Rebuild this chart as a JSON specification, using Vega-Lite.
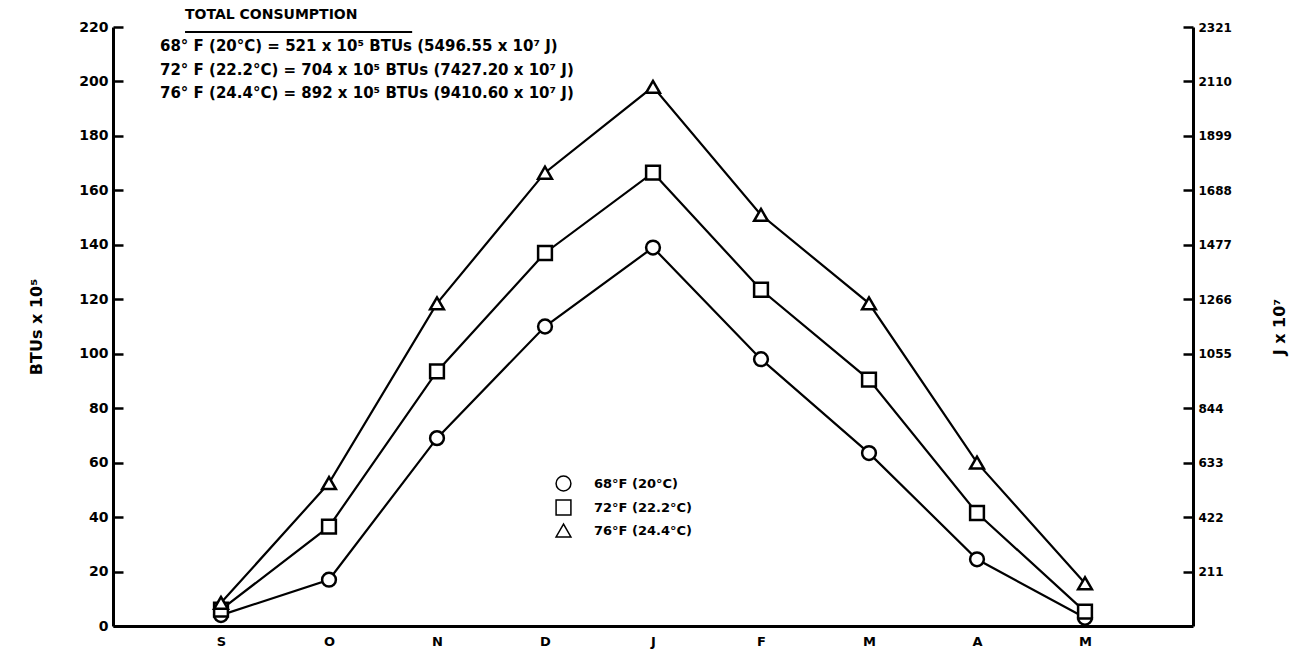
{
  "$schema": "https://vega.github.io/schema/vega-lite/v6.json",
  "width": 1080,
  "height": 599,
  "autosize": "none",
  "padding": {"left": 113, "top": 27, "right": 100, "bottom": 24},
  "background": "white",
  "config": {
    "view": {"stroke": null},
    "font": "DejaVu Sans",
    "axis": {"domainColor": "black", "tickColor": "black", "labelColor": "black", "titleColor": "black"}
  },
  "datasets": {
    "series": [
      {"i": 0, "month": "S", "series": "68°F (20°C)", "btu": 4},
      {"i": 1, "month": "O", "series": "68°F (20°C)", "btu": 17},
      {"i": 2, "month": "N", "series": "68°F (20°C)", "btu": 69},
      {"i": 3, "month": "D", "series": "68°F (20°C)", "btu": 110},
      {"i": 4, "month": "J", "series": "68°F (20°C)", "btu": 139},
      {"i": 5, "month": "F", "series": "68°F (20°C)", "btu": 98},
      {"i": 6, "month": "M", "series": "68°F (20°C)", "btu": 63.5},
      {"i": 7, "month": "A", "series": "68°F (20°C)", "btu": 24.5},
      {"i": 8, "month": "M", "series": "68°F (20°C)", "btu": 3},
      {"i": 0, "month": "S", "series": "72°F (22.2°C)", "btu": 6},
      {"i": 1, "month": "O", "series": "72°F (22.2°C)", "btu": 36.5},
      {"i": 2, "month": "N", "series": "72°F (22.2°C)", "btu": 93.5},
      {"i": 3, "month": "D", "series": "72°F (22.2°C)", "btu": 137},
      {"i": 4, "month": "J", "series": "72°F (22.2°C)", "btu": 166.5},
      {"i": 5, "month": "F", "series": "72°F (22.2°C)", "btu": 123.5},
      {"i": 6, "month": "M", "series": "72°F (22.2°C)", "btu": 90.5},
      {"i": 7, "month": "A", "series": "72°F (22.2°C)", "btu": 41.5},
      {"i": 8, "month": "M", "series": "72°F (22.2°C)", "btu": 5.3},
      {"i": 0, "month": "S", "series": "76°F (24.4°C)", "btu": 8.5},
      {"i": 1, "month": "O", "series": "76°F (24.4°C)", "btu": 52.5},
      {"i": 2, "month": "N", "series": "76°F (24.4°C)", "btu": 118.5},
      {"i": 3, "month": "D", "series": "76°F (24.4°C)", "btu": 166.5},
      {"i": 4, "month": "J", "series": "76°F (24.4°C)", "btu": 198},
      {"i": 5, "month": "F", "series": "76°F (24.4°C)", "btu": 151},
      {"i": 6, "month": "M", "series": "76°F (24.4°C)", "btu": 118.5},
      {"i": 7, "month": "A", "series": "76°F (24.4°C)", "btu": 60},
      {"i": 8, "month": "M", "series": "76°F (24.4°C)", "btu": 15.7}
    ],
    "notes": [
      {"x": -0.333, "y": 224.5, "text": "TOTAL   CONSUMPTION", "size": 14},
      {"x": -0.565, "y": 213.0, "text": "68° F (20°C) = 521 x 10⁵ BTUs (5496.55 x 10⁷ J)", "size": 15},
      {"x": -0.565, "y": 204.2, "text": "72° F (22.2°C) = 704 x 10⁵ BTUs (7427.20 x 10⁷ J)", "size": 15},
      {"x": -0.565, "y": 195.8, "text": "76° F (24.4°C) = 892 x 10⁵ BTUs (9410.60 x 10⁷ J)", "size": 15}
    ],
    "underline": [
      {"x": -0.333, "x2": 1.77, "y": 218.2}
    ]
  },
  "layer": [
    {
      "data": {"name": "series"},
      "mark": {"type": "line", "color": "black", "strokeWidth": 2.2},
      "encoding": {
        "x": {
          "field": "i", "type": "quantitative", "title": null,
          "scale": {"domain": [-1, 9], "nice": false, "zero": false},
          "axis": {
            "values": [0, 1, 2, 3, 4, 5, 6, 7, 8],
            "labelExpr": "['S','O','N','D','J','F','M','A','M'][datum.value]",
            "ticks": false, "grid": false, "domainWidth": 3, "labelFontSize": 13, "labelFontWeight": "bold",
            "labelPadding": 15, "labelBaseline": "middle"
          }
        },
        "y": {
          "field": "btu", "type": "quantitative", "title": "J x 10⁷",
          "scale": {"domain": [0, 220], "nice": false},
          "axis": {
            "orient": "right",
            "values": [20, 40, 60, 80, 100, 120, 140, 160, 180, 200, 220],
            "labelExpr": "format(datum.value * 10.55, 'd')",
            "ticks": false, "domainWidth": 3,
            "grid": true, "gridColor": "black", "gridWidth": 2.5, "gridOpacity": 1, "gridDash": [10, 3000],
            "labelFontSize": 12, "labelFontWeight": "bold", "labelPadding": 5,
            "titleFontSize": 16, "titleFontWeight": "bold", "titleAngle": -90, "titlePadding": 56
          }
        },
        "detail": {"field": "series"}
      }
    },
    {
      "data": {"name": "series"},
      "mark": {"type": "point", "filled": false, "fill": "white", "fillOpacity": 1, "stroke": "black", "strokeWidth": 2.5, "size": 190, "opacity": 1},
      "encoding": {
        "x": {"field": "i", "type": "quantitative", "title": null},
        "y": {
          "field": "btu", "type": "quantitative", "title": "BTUs x 10⁵",
          "scale": {"domain": [0, 220], "nice": false},
          "axis": {
            "orient": "left",
            "values": [0, 20, 40, 60, 80, 100, 120, 140, 160, 180, 200, 220],
            "ticks": false, "domainWidth": 3,
            "grid": true, "gridColor": "black", "gridWidth": 2.5, "gridOpacity": 1, "gridDash": [10, 3000],
            "labelFontSize": 14, "labelFontWeight": "bold", "labelPadding": 5,
            "titleFontSize": 16, "titleFontWeight": "bold", "titlePadding": 34
          }
        },
        "shape": {
          "field": "series", "type": "nominal",
          "scale": {"domain": ["68°F (20°C)", "72°F (22.2°C)", "76°F (24.4°C)"], "range": ["circle", "square", "triangle-up"]},
          "legend": {
            "title": null, "orient": "none", "legendX": 442, "legendY": 448, "padding": 0,
            "symbolSize": 220,
            "labelFontSize": 13, "labelFontWeight": "bold", "labelColor": "black", "labelOffset": 22, "rowPadding": 3,
            "encode": {
              "symbols": {
                "update": {
                  "stroke": {"value": "black"},
                  "fill": {"value": "white"},
                  "strokeWidth": {"value": 2.5},
                  "opacity": {"value": 1},
                  "fillOpacity": {"value": 1},
                  "strokeOpacity": {"value": 1}
                }
              }
            }
          }
        }
      }
    },
    {
      "data": {"name": "notes"},
      "mark": {"type": "text", "align": "left", "baseline": "middle", "fontWeight": "bold", "color": "black"},
      "encoding": {
        "x": {"field": "x", "type": "quantitative", "title": null},
        "y": {"field": "y", "type": "quantitative", "scale": {"domain": [0, 220], "nice": false}, "axis": null},
        "text": {"field": "text"},
        "size": {"field": "size", "type": "quantitative", "scale": null, "legend": null}
      }
    },
    {
      "data": {"name": "underline"},
      "mark": {"type": "rule", "color": "black", "strokeWidth": 2},
      "encoding": {
        "x": {"field": "x", "type": "quantitative", "title": null},
        "x2": {"field": "x2"},
        "y": {"field": "y", "type": "quantitative", "scale": {"domain": [0, 220], "nice": false}, "axis": null}
      }
    }
  ],
  "resolve": {"scale": {"y": "independent"}}
}
